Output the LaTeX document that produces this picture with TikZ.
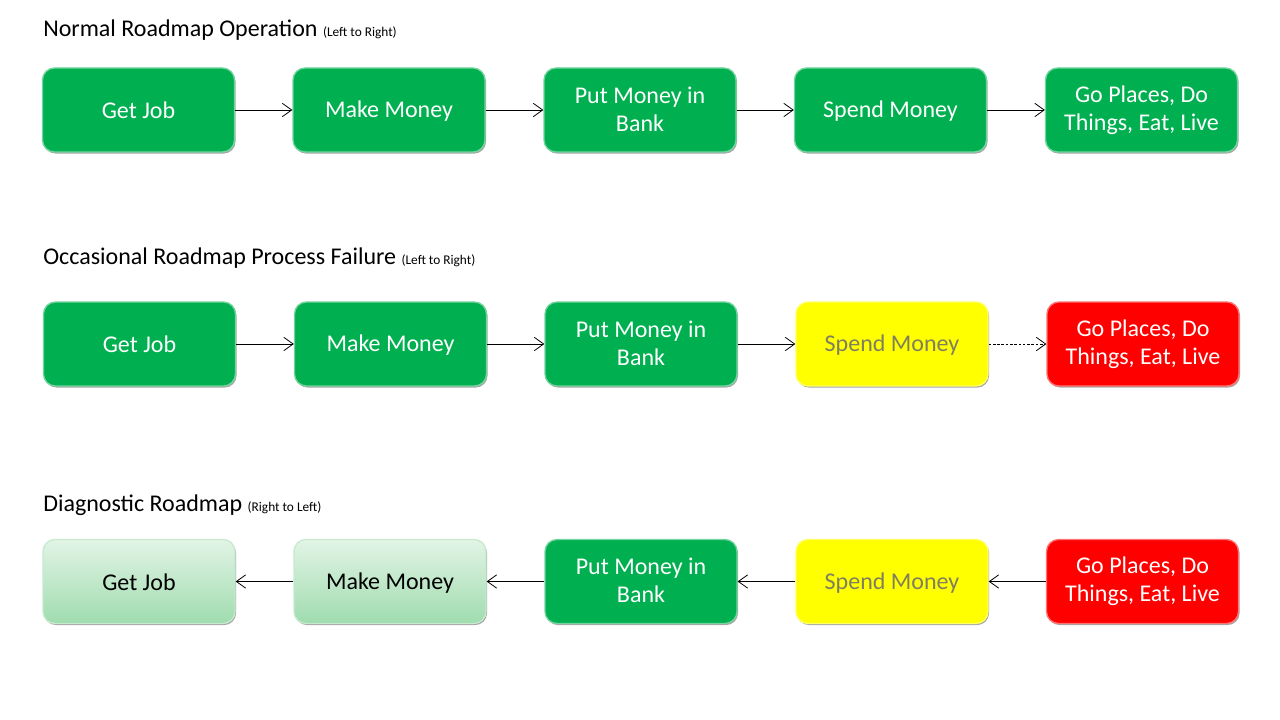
\documentclass[tikz,border=0pt]{standalone}
\usepackage{fontspec}
\setmainfont{Carlito}
\usetikzlibrary{arrows.meta,shadows}
\definecolor{pgreen}{HTML}{00B050}
\definecolor{pyellow}{HTML}{FFFF00}
\definecolor{pred}{HTML}{FF0000}
\definecolor{ygray}{HTML}{7F7F60}
\definecolor{fadetop}{HTML}{E2F4E6}
\definecolor{fadebot}{HTML}{9FDCAE}
\newcommand\subtxt{\fontsize{10}{12}\selectfont}
\newcommand\topstrut{\rule{0pt}{14.55pt}}
\newcommand\botstrut{\rule[-1.45pt]{0pt}{1.45pt}}
\tikzset{
  box/.style={rounded corners=9pt, minimum width=144pt, minimum height=63pt,
    inner sep=0pt, align=center, font=\fontsize{18}{21}\selectfont, line width=1pt,
    execute at begin node=\topstrut, execute at end node=\botstrut,
    drop shadow={shadow xshift=0.8pt, shadow yshift=-1.2pt, fill=black, opacity=0.35}},
  gbox/.style={box, fill=pgreen, draw=pgreen!55!white, text=white},
  ybox/.style={box, fill=pyellow, draw=pyellow!60!white, text=ygray},
  rbox/.style={box, fill=pred, draw=pred!55!white, text=white},
  fbox/.style={box, top color=fadetop, bottom color=fadebot, draw=fadebot!60!white, text=black},
  title/.style={anchor=base west, inner sep=0pt, font=\fontsize{18}{22}\selectfont},
  conn/.style={-{Straight Barb[length=7pt,width=10pt]}, line width=0.6pt, black},
}
\begin{document}
\begin{tikzpicture}[x=0.75pt,y=-0.75pt]
\useasboundingbox[fill=white] (0,0) rectangle (1280,720);
% Titles
\node[title] (t1) at (43,37) {Normal Roadmap Operation {\subtxt(Left to Right)}};
\node[title] (t2) at (43,264) {Occasional Roadmap Process Failure {\subtxt(Left to Right)}};
\node[title] (t3) at (43,511) {Diagnostic Roadmap {\subtxt(Right to Left)}};
% Row 1
\node[gbox] (a1) at (138.5,110) {Get Job};
\node[gbox] (a2) at (389,110) {Make Money};
\node[gbox] (a3) at (640,110) {Put Money in\\Bank};
\node[gbox] (a4) at (890.5,110) {Spend Money};
\node[gbox] (a5) at (1141.5,110) {Go Places, Do\\Things, Eat, Live};
\draw[conn] (a1) -- (a2);
\draw[conn] (a2) -- (a3);
\draw[conn] (a3) -- (a4);
\draw[conn] (a4) -- (a5);
% Row 2
\node[gbox] (b1) at (139.5,344) {Get Job};
\node[gbox] (b2) at (390.5,344) {Make Money};
\node[gbox] (b3) at (641,344) {Put Money in\\Bank};
\node[ybox] (b4) at (892,344) {Spend Money};
\node[rbox] (b5) at (1143,344) {Go Places, Do\\Things, Eat, Live};
\draw[conn] (b1) -- (b2);
\draw[conn] (b2) -- (b3);
\draw[conn] (b3) -- (b4);
\draw[conn, dash pattern=on 2pt off 1.2pt] (b4) -- (b5);
% Row 3
\node[fbox] (c1) at (139,581.5) {Get Job};
\node[fbox] (c2) at (390,581.5) {Make Money};
\node[gbox] (c3) at (641,581.5) {Put Money in\\Bank};
\node[ybox] (c4) at (892,581.5) {Spend Money};
\node[rbox] (c5) at (1142.5,581.5) {Go Places, Do\\Things, Eat, Live};
\draw[conn] (c2) -- (c1);
\draw[conn] (c3) -- (c2);
\draw[conn] (c4) -- (c3);
\draw[conn] (c5) -- (c4);
\end{tikzpicture}
\end{document}
